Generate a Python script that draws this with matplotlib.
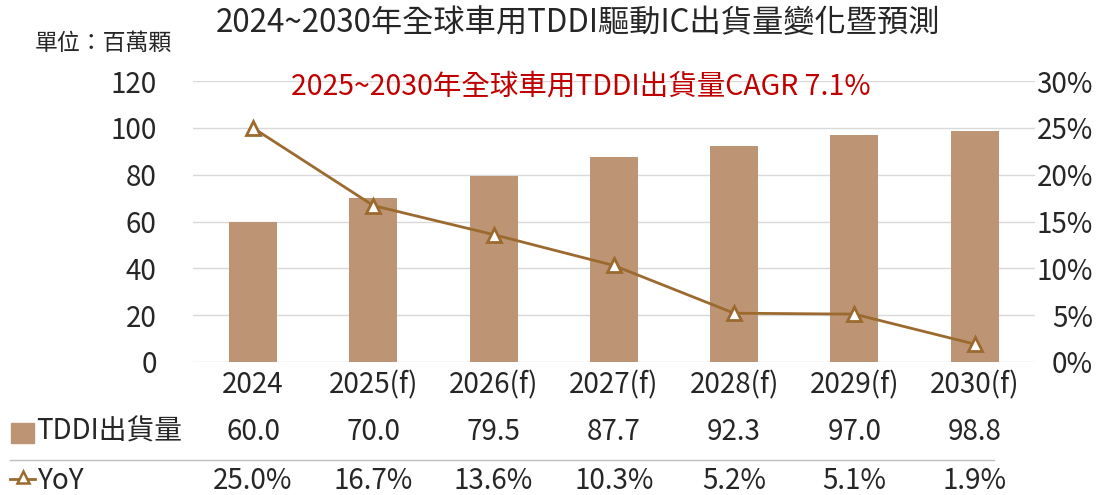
import matplotlib.pyplot as plt
from matplotlib.patches import Rectangle
from matplotlib.lines import Line2D
from matplotlib.transforms import blended_transform_factory

plt.rcParams['font.family'] = ['Noto Sans CJK TC', 'DejaVu Sans']

# data
years = ['2024', '2025(f)', '2026(f)', '2027(f)', '2028(f)', '2029(f)', '2030(f)']
shipments = [60.0, 70.0, 79.5, 87.7, 92.3, 97.0, 98.8]
yoy = [25.0, 16.7, 13.6, 10.3, 5.2, 5.1, 1.9]

bar_color = '#BD9474'
line_color = '#9C6A2E'
text_color = '#262626'
fs = 20

fig = plt.figure(figsize=(11.09, 4.95), dpi=100)
ax = fig.add_axes([0.174, 0.269, 0.759, 0.567])
ax2 = ax.twinx()

x = list(range(len(years)))
ax.bar(x, shipments, width=0.4, color=bar_color, zorder=2)
ax.set_ylim(0, 120)
ax.set_yticks(range(0, 121, 20))
ax.set_xlim(-0.5, len(years) - 0.5)
ax.grid(axis='y', color='#D9D9D9', linewidth=1, zorder=0)
ax.set_axisbelow(True)

ax2.plot(x, [v / 100 for v in yoy], color=line_color, linewidth=2,
         marker='^', markersize=10, markerfacecolor='white',
         markeredgecolor=line_color, markeredgewidth=2, zorder=3)
ax2.set_ylim(0, 0.30)
ax2.set_yticks([i * 0.05 for i in range(7)])
ax2.set_yticklabels([f'{i * 5}%' for i in range(7)], ha='right')

for a in (ax, ax2):
    for s in a.spines.values():
        s.set_visible(False)
    a.tick_params(length=0, labelsize=fs, colors=text_color)
ax.tick_params(axis='y', pad=26)
ax2.tick_params(axis='y', pad=42)
ax.set_xticks(x)
ax.set_xticklabels(years)
ax.tick_params(axis='x', pad=6)

# titles
fig.text(0.521, 0.953, '2024~2030年全球車用TDDI驅動IC出貨量變化暨預測',
         ha='center', va='center', fontsize=22.5, color=text_color)
fig.text(0.031, 0.913, '單位：百萬顆', ha='left', va='center',
         fontsize=16.5, color=text_color)
fig.text(0.524, 0.826, '2025~2030年全球車用TDDI出貨量CAGR 7.1%',
         ha='center', va='center', fontsize=20.5, color='#C00000')

# data table
tr = blended_transform_factory(ax.transData, fig.transFigure)
for i in x:
    ax.text(i, 0.128, f'{shipments[i]:.1f}', transform=tr, ha='center',
            va='center', fontsize=fs, color=text_color)
    ax.text(i, 0.028, f'{yoy[i]:.1f}%', transform=tr, ha='center',
            va='center', fontsize=fs, color=text_color)

fig.add_artist(Rectangle((0.010, 0.105), 0.021, 0.040, color=bar_color,
                         transform=fig.transFigure))
fig.text(0.033, 0.128, 'TDDI出貨量', ha='left', va='center', fontsize=fs,
         color=text_color)
fig.add_artist(Line2D([0.009, 0.032], [0.032, 0.032], color=line_color,
                      linewidth=2, transform=fig.transFigure))
fig.add_artist(Line2D([0.0205], [0.036], marker='^', markersize=8,
                      markerfacecolor='white', markeredgecolor=line_color,
                      markeredgewidth=1.8, transform=fig.transFigure))
fig.text(0.034, 0.028, 'YoY', ha='left', va='center', fontsize=fs,
         color=text_color)
fig.add_artist(Line2D([0.009, 0.896], [0.071, 0.071], color='#BFBFBF',
                      linewidth=1, transform=fig.transFigure))

fig.savefig('out.png', dpi=100)
